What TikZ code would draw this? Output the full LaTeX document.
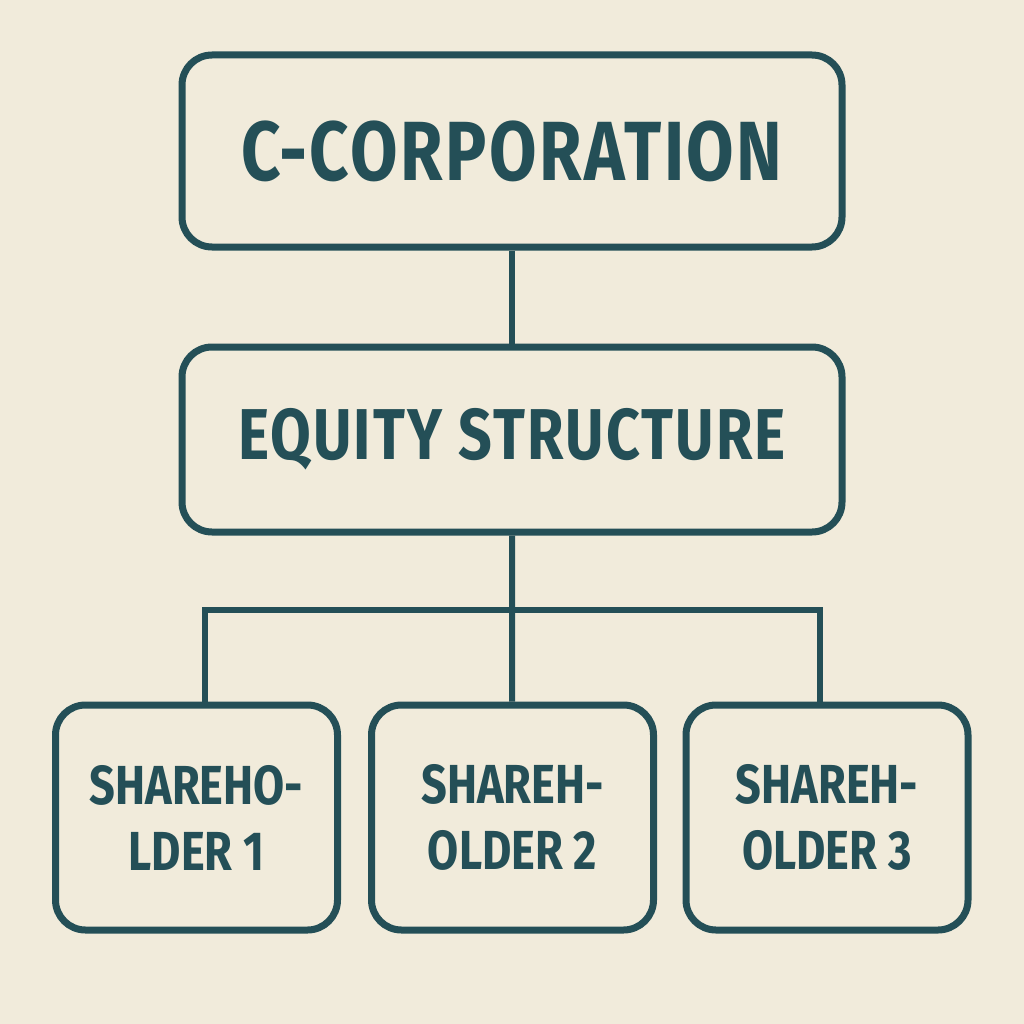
\documentclass[tikz,border=0pt]{standalone}
\usepackage{fontspec}
\newfontfamily\boxfont[FakeStretch=0.82]{Fira Sans}
\newfontfamily\wideboxfont[FakeStretch=0.82,LetterSpace=3]{Fira Sans}
\definecolor{paper}{HTML}{F1EBDB}
\definecolor{ink}{HTML}{244F57}
\begin{document}
\begin{tikzpicture}[x=1pt,y=-1pt,
    box/.style={draw=ink, line width=7pt, rounded corners=30pt, align=center,
        text=ink, font=\boxfont\bfseries},
    link/.style={draw=ink, line width=6pt}]
    % constants
    \def\topWidth{660}
    \def\topHeight{192}
    \def\midHeight{185}
    \def\leafWidth{282}
    \def\leafHeight{225}
    \def\busY{610}
    % canvas
    \fill [paper] (0,0) rectangle (1024,1024);
    \useasboundingbox (0,0) rectangle (1024,1024);
    % boxes
    \node [box, minimum width=\topWidth, minimum height=\topHeight,
        font=\wideboxfont\bfseries\fontsize{84}{90}\selectfont] (corp) at (512,151) {C-CORPORATION};
    \node [box, minimum width=\topWidth, minimum height=\midHeight,
        font=\wideboxfont\bfseries\fontsize{72}{80}\selectfont] (equity) at (512,439.5) {EQUITY STRUCTURE};
    \node [box, minimum width=\leafWidth, minimum height=\leafHeight,
        font=\boxfont\bfseries\fontsize{55}{66}\selectfont] (holder1) at (196.5,817.5) {SHAREHO-\\LDER 1};
    \node [box, minimum width=\leafWidth, minimum height=\leafHeight,
        font=\boxfont\bfseries\fontsize{55}{66}\selectfont] (holder2) at (512.5,817.5) {SHAREH-\\OLDER 2};
    \node [box, minimum width=\leafWidth, minimum height=\leafHeight,
        font=\boxfont\bfseries\fontsize{55}{66}\selectfont] (holder3) at (827,817.5) {SHAREH-\\OLDER 3};
    % bus points
    \coordinate (busL) at (205,\busY);
    \coordinate (busM) at (512,\busY);
    \coordinate (busR) at (820,\busY);
    % links
    \draw [link] (corp) -- (equity);
    \draw [link] (equity) -- (busM) -- (holder2);
    \draw [link, line join=miter] (busL |- holder1.north) -- (busL) -- (busR) -- (busR |- holder3.north);
\end{tikzpicture}
\end{document}
